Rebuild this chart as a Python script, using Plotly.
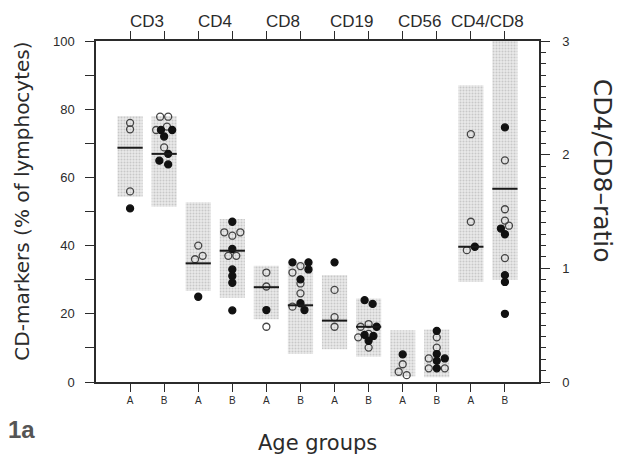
import plotly.graph_objects as go

# ---------------- data ----------------
markers = ["CD3", "CD4", "CD8", "CD19", "CD56", "CD4/CD8"]
age_groups = ["A", "B"]

# shaded range boxes (CD3..CD56 in % of lymphocytes, CD4/CD8 as ratio)
box_low = [54.3, 51.4, 26.7, 24.7, 18.4, 8.2, 9.6, 7.4, 1.6, 1.4, 0.88, 0.90]
box_high = [78.0, 78.0, 52.7, 47.8, 34.1, 35.3, 31.4, 24.5, 15.2, 15.4, 2.61, 3.00]
medians = [68.7, 66.9, 34.8, 38.5, 27.8, 22.5, 18.0, 16.2, None, None, 1.19, 1.70]

# individual values (open / filled circles); slot = side-by-side dodge index
open_values = [
    [76.0, 74.1, 55.9],
    [77.8, 77.8, 73.9, 74.9, 68.8],
    [40.0, 36.0, 37.0],
    [43.9, 42.9, 43.9, 37.0, 37.0],
    [32.1, 28.0, 16.2],
    [34.0, 32.1, 28.9, 26.0, 22.1],
    [27.0, 19.0, 16.2],
    [17.0, 16.2, 13.1, 14.1, 10.1],
    [5.2, 3.0, 2.0],
    [13.1, 10.1, 6.9, 4.0, 4.0],
    [2.18, 1.41, 1.16],
    [1.95, 1.52, 1.42, 1.375, 1.09],
]
open_slots = [
    [0, 0, 0],
    [-0.5, 0.5, -1, 0.35, 0],
    [0, -0.4, 0.55],
    [-1, 0, 1, -0.5, 0.5],
    [0, 0, 0],
    [0, -1, 0, 0, -1],
    [0, 0, 0],
    [0, -1, -1.3, 0, 0],
    [0, -0.5, 0.5],
    [0, 0, -1, -1, 1],
    [0, 0, -0.5],
    [0, 0, 0, 0.5, 0],
]
filled_values = [
    [50.9],
    [73.9, 73.9, 72.0, 66.9, 64.9, 63.8],
    [25.0],
    [47.0, 39.0, 33.0, 31.1, 29.1, 21.0],
    [21.1],
    [35.1, 35.1, 33.0, 30.1, 23.1, 21.1],
    [35.1],
    [24.0, 22.9, 16.2, 13.8, 13.5, 12.1],
    [8.1],
    [15.0, 8.2, 6.2, 6.9, 4.0],
    [1.19],
    [2.24, 1.35, 1.30, 0.94, 0.88, 0.60],
]
filled_slots = [
    [0],
    [-0.4, 1, 0, 0.5, -0.6, 0.5],
    [0],
    [0, 0, 0, 0, 0, 0],
    [0],
    [-1, 1, 1, 0, 0, 0.5],
    [0],
    [-0.5, 0.5, 1, -0.5, 0.6, 0],
    [0],
    [0, 0, 0, 1, 0],
    [0.5],
    [0, -0.5, 0, 0, 0, 0],
]

# ---------------- style ----------------
FONT = "Liberation Sans, Arial, Helvetica, sans-serif"
TITLE_FONT = "DejaVu Sans, Liberation Sans, Arial, sans-serif"
INK = "#2b2b2b"
BOX_W = 0.74
STEP = 0.235
RATIO_GROUP = "CD4/CD8"

tick_text = [a for m in markers for a in age_groups]
positions = list(range(1, len(tick_text) + 1))
group_marker = [m for m in markers for a in age_groups]
on_ratio = [gm == RATIO_GROUP for gm in group_marker]

fig = go.Figure()

# boxes
for ratio, yax in [(False, "y"), (True, "y2")]:
    idx = [i for i in range(len(positions)) if on_ratio[i] == ratio]
    fig.add_trace(go.Bar(
        x=[positions[i] for i in idx],
        base=[box_low[i] for i in idx],
        y=[box_high[i] - box_low[i] for i in idx],
        width=BOX_W,
        yaxis=yax,
        marker=dict(
            color="#e6e6e6",
            line=dict(width=0),
            pattern=dict(shape=".", fgcolor="#a8a8a8", bgcolor="#e9e9e9",
                         size=3, solidity=0.35),
        ),
        hoverinfo="skip",
        showlegend=False,
    ))

# median lines
shapes = []
for i, med in enumerate(medians):
    if med is None:
        continue
    shapes.append(dict(
        type="line", xref="x", yref="y2" if on_ratio[i] else "y",
        x0=positions[i] - BOX_W / 2, x1=positions[i] + BOX_W / 2,
        y0=med, y1=med, line=dict(color="#1a1a1a", width=2),
    ))

# points
for vals, slots, symbol, col in [
    (open_values, open_slots, "circle-open", "#444444"),
    (filled_values, filled_slots, "circle", "#111111"),
]:
    for ratio, yax in [(False, "y"), (True, "y2")]:
        xs, ys = [], []
        for i in range(len(positions)):
            if on_ratio[i] != ratio:
                continue
            for v, s in zip(vals[i], slots[i]):
                xs.append(positions[i] + s * STEP)
                ys.append(v)
        fig.add_trace(go.Scatter(
            x=xs, y=ys, mode="markers", yaxis=yax,
            marker=dict(symbol=symbol, size=7, color=col,
                        line=dict(width=1.3, color=col)),
            hoverinfo="skip", showlegend=False,
        ))

# dummy trace for the top axis
fig.add_trace(go.Scatter(x=[positions[0]], y=[None], xaxis="x2",
                         mode="markers", showlegend=False, hoverinfo="skip"))

# top group labels
annotations = []
for k, m in enumerate(markers):
    annotations.append(dict(
        text=m, x=(positions[2 * k] + positions[2 * k + 1]) / 2, xref="x",
        y=1.057, yref="paper", showarrow=False,
        font=dict(size=17, color=INK, family=FONT),
        xanchor="center", yanchor="middle",
    ))

annotations += [
    dict(text="CD-markers (% of lymphocytes)", x=-0.167, y=0.529,
         xref="paper", yref="paper", showarrow=False, textangle=-90,
         font=dict(size=20, color=INK, family=TITLE_FONT),
         xanchor="center", yanchor="middle"),
    dict(text="CD4/CD8–ratio", x=1.144, y=0.62,
         xref="paper", yref="paper", showarrow=False, textangle=90,
         font=dict(size=25, color=INK, family=TITLE_FONT),
         xanchor="center", yanchor="middle"),
    dict(text="Age groups", x=0.5, y=-0.18,
         xref="paper", yref="paper", showarrow=False,
         font=dict(size=21, color=INK, family=TITLE_FONT),
         xanchor="center", yanchor="middle"),
    dict(text="<b>1a</b>", x=-0.169, y=-0.138,
         xref="paper", yref="paper", showarrow=False,
         font=dict(size=24, color="#555555", family=FONT),
         xanchor="center", yanchor="middle"),
]

axis_common = dict(showgrid=False, zeroline=False, showline=True,
                   linecolor=INK, linewidth=1.5, tickcolor=INK, tickwidth=1.2,
                   fixedrange=True, automargin=False)

fig.update_layout(
    width=622, height=454,
    margin=dict(l=96, r=83, t=41, b=72, autoexpand=False),
    paper_bgcolor="white", plot_bgcolor="white",
    barmode="overlay",
    font=dict(family=FONT, color=INK),
    xaxis=dict(range=[0, 13], tickvals=positions, ticktext=tick_text,
               ticks="outside", ticklen=8, tickfont=dict(size=10, color=INK),
               **axis_common),
    xaxis2=dict(range=[0, 13], overlaying="x", side="top",
                tickvals=positions, showticklabels=False,
                ticks="outside", ticklen=8, **axis_common),
    yaxis=dict(range=[0, 100], tick0=0, dtick=20, ticks="outside", ticklen=9,
               minor=dict(dtick=10, ticks="outside", ticklen=9, tickcolor=INK),
               tickfont=dict(size=13, color=INK), ticklabelstandoff=8,
               **axis_common),
    yaxis2=dict(range=[0, 3], overlaying="y", side="right", tick0=0, dtick=1,
                ticks="outside", ticklen=9,
                minor=dict(dtick=0.1, ticks="outside", ticklen=5, tickcolor=INK),
                tickfont=dict(size=13, color=INK), ticklabelstandoff=10,
                **axis_common),
    shapes=shapes,
    annotations=annotations,
)

# the page's default 8px body margin would shift the 622x454 figure
fig.write_html("out.html",
               config={"displayModeBar": False},
               post_script="document.body.style.margin='0px';"
                           "document.body.style.overflow='hidden';")
